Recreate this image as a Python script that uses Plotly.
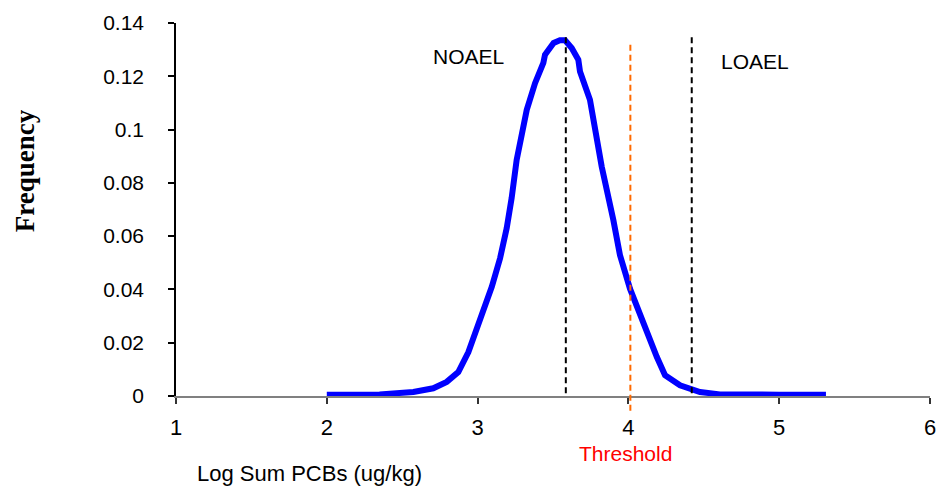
import plotly.graph_objects as go

# Distribution of log-transformed sum PCB concentrations
log_pcb = [2.00, 2.35, 2.574, 2.706, 2.795, 2.872, 2.939, 2.998, 3.038, 3.094,
           3.149, 3.193, 3.226, 3.259, 3.326, 3.381, 3.436, 3.447, 3.504, 3.546,
           3.580, 3.624, 3.668, 3.679, 3.745, 3.778, 3.823, 3.900, 3.944, 4.011,
           4.066, 4.122, 4.188, 4.243, 4.342, 4.475, 4.607, 5.00, 5.31]
frequency = [0.0005, 0.0006, 0.0015, 0.0029, 0.0053, 0.0090, 0.0165, 0.0253, 0.0322, 0.0410,
             0.0517, 0.0630, 0.0744, 0.0886, 0.1074, 0.1174, 0.1250, 0.1281, 0.1325, 0.1335,
             0.1335, 0.1306, 0.1262, 0.1218, 0.1112, 0.1011, 0.0861, 0.0661, 0.0529, 0.0402,
             0.0322, 0.0234, 0.0147, 0.0078, 0.0040, 0.0015, 0.0006, 0.0005, 0.0005]

# Effect levels and threshold (log units)
noael_x = 3.585
loael_x = 4.42
threshold_x = 4.013

x_range = [1, 6]
y_range = [0, 0.14]
x_ticks = [1, 2, 3, 4, 5, 6]
y_ticks = [0, 0.02, 0.04, 0.06, 0.08, 0.1, 0.12, 0.14]
y_tick_text = ["0", "0.02", "0.04", "0.06", "0.08", "0.1", "0.12", "0.14"]


def to_paper(v):
    return (v - y_range[0]) / (y_range[1] - y_range[0])


fig = go.Figure()
fig.add_trace(go.Scatter(
    x=log_pcb, y=frequency, mode="lines",
    line=dict(color="#0000FF", width=6),
    hoverinfo="skip", showlegend=False,
))

dash_black = dict(color="black", width=2, dash="6px,4px")
dash_orange = dict(color="#FF6A00", width=2, dash="6px,4px")
shapes = [
    dict(type="line", xref="x", yref="paper", x0=noael_x, x1=noael_x,
         y0=to_paper(0.001), y1=to_paper(0.1357), line=dash_black),
    dict(type="line", xref="x", yref="paper", x0=loael_x, x1=loael_x,
         y0=to_paper(0.001), y1=to_paper(0.1357), line=dash_black),
    dict(type="line", xref="x", yref="paper", x0=threshold_x, x1=threshold_x,
         y0=to_paper(-0.0055), y1=to_paper(0.133), line=dash_orange),
]

font_main = "Liberation Sans, Arial, sans-serif"
centered = dict(xanchor="center", yanchor="middle", showarrow=False)
annotations = [
    dict(text="NOAEL", x=2.94, y=0.1273, xref="x", yref="y",
         font=dict(family=font_main, size=21, color="black"), **centered),
    dict(text="LOAEL", x=4.84, y=0.1256, xref="x", yref="y",
         font=dict(family=font_main, size=21, color="black"), **centered),
    dict(text="Threshold", x=3.98, y=-0.154, xref="x", yref="paper",
         font=dict(family=font_main, size=21, color="#FF0000"), **centered),
    dict(text="Log Sum PCBs (ug/kg)", x=0.1777, y=-0.207, xref="paper", yref="paper",
         font=dict(family=font_main, size=22, color="black"), **centered),
    dict(text="<b>Frequency</b>", x=-0.2, y=0.603, xref="paper", yref="paper",
         textangle=-90,
         font=dict(family="Liberation Serif, Times New Roman, serif", size=27, color="black"),
         **centered),
]

fig.update_layout(
    width=937, height=492,
    margin=dict(l=176, r=7, t=23, b=96.3, autoexpand=False),
    paper_bgcolor="white", plot_bgcolor="white",
    showlegend=False, hovermode=False,
    shapes=shapes, annotations=annotations,
    xaxis=dict(
        range=x_range, tickvals=x_ticks, ticktext=[str(t) for t in x_ticks],
        showgrid=False, zeroline=False, showline=True, linecolor="#808080", linewidth=1.5,
        ticks="outside", ticklen=6, tickcolor="#333333", tickwidth=1.5,
        tickfont=dict(family=font_main, size=22, color="black"),
        ticklabelstandoff=5, automargin=False,
    ),
    yaxis=dict(
        range=y_range, tickvals=y_ticks, ticktext=y_tick_text,
        showgrid=False, zeroline=False, showline=True, linecolor="black", linewidth=1.5,
        ticks="outside", ticklen=6, tickcolor="black", tickwidth=1.5,
        tickfont=dict(family=font_main, size=21, color="black"),
        ticklabelstandoff=20, automargin=False,
    ),
)

fig.write_html("out.html")
